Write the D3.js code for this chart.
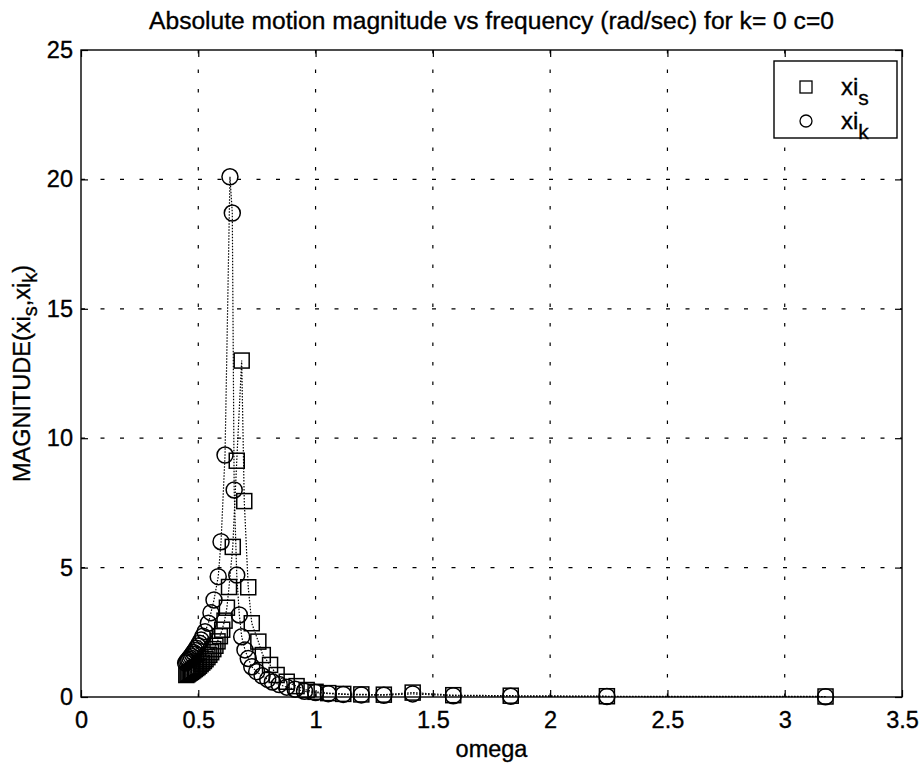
<!DOCTYPE html>
<html>
<head>
<meta charset="utf-8">
<script src="https://cdn.jsdelivr.net/npm/d3@7"></script>
<style>
  html, body { margin: 0; padding: 0; background: #fff; }
  svg { display: block; }
  text { font-family: "Liberation Sans", Arial, Helvetica, sans-serif; fill: #000; stroke: #000; stroke-width: 0.35px; }
</style>
</head>
<body>
<svg id="chart" width="922" height="767"></svg>
<script>
// ---------------- data ----------------
const xTicks = [0, 0.5, 1, 1.5, 2, 2.5, 3, 3.5];
const xTickLabels = ["0", "0.5", "1", "1.5", "2", "2.5", "3", "3.5"];
const yTicks = [0, 5, 10, 15, 20, 25];
const yTickLabels = ["0", "5", "10", "15", "20", "25"];

// xi_s (squares)
const omegaS = [3.174, 2.242, 1.832, 1.587, 1.414, 1.291, 1.195, 1.118, 1.054, 1.000,
  0.962, 0.919, 0.877, 0.834, 0.806, 0.775, 0.756, 0.728, 0.713, 0.696,
  0.685, 0.664, 0.647, 0.631, 0.622, 0.612, 0.602, 0.592, 0.582, 0.573,
  0.564, 0.555, 0.547, 0.539, 0.531, 0.524, 0.517, 0.510, 0.503, 0.497,
  0.491, 0.485, 0.479, 0.474, 0.468, 0.463, 0.458, 0.454, 0.449];
const xiS = [0.02, 0.03, 0.05, 0.07, 0.17, 0.09, 0.10, 0.12, 0.15, 0.20,
  0.27, 0.42, 0.59, 0.85, 1.24, 1.62, 2.14, 2.85, 4.24, 7.57,
  13.0, 9.13, 5.8, 4.25, 3.45, 2.95, 2.6, 2.35, 2.15, 1.98,
  1.85, 1.73, 1.63, 1.54, 1.46, 1.39, 1.33, 1.27, 1.21, 1.16,
  1.12, 1.08, 1.04, 1.00, 0.97, 0.94, 0.91, 0.88, 0.85];

// xi_k (circles)
const omegaK = [3.174, 2.242, 1.832, 1.587, 1.414, 1.291, 1.195, 1.118, 1.054, 1.000,
  0.953, 0.913, 0.877, 0.845, 0.816, 0.796, 0.772, 0.749, 0.728, 0.713,
  0.699, 0.685, 0.675, 0.664, 0.653, 0.645, 0.635, 0.614, 0.597, 0.585,
  0.567, 0.554, 0.543, 0.529, 0.520, 0.512, 0.505, 0.498, 0.492, 0.486,
  0.480, 0.475, 0.469, 0.464, 0.459, 0.455, 0.450, 0.446];
const xiK = [0.01, 0.02, 0.03, 0.05, 0.12, 0.07, 0.08, 0.10, 0.13, 0.17,
  0.22, 0.30, 0.38, 0.48, 0.58, 0.68, 0.82, 0.98, 1.17, 1.49,
  1.82, 2.33, 3.17, 4.71, 8.0, 18.7, 20.1, 9.35, 6.0, 4.65,
  3.75, 3.26, 2.85, 2.52, 2.35, 2.2, 2.08, 1.97, 1.88, 1.8,
  1.72, 1.65, 1.58, 1.52, 1.46, 1.41, 1.36, 1.31];

const titleText = "Absolute motion magnitude vs frequency (rad/sec) for k= 0 c=0";
const xLabelText = "omega";

// ---------------- layout ----------------
const svg = d3.select("#chart");
const L = 81, R = 902, T = 50, B = 697;
const FS = 23.5;

const x = d3.scaleLinear().domain([0, 3.5]).range([L, R]);
const y = d3.scaleLinear().domain([0, 25]).range([B, T]);

// grid
const grid = svg.append("g");
grid.selectAll("line.vg").data(xTicks.slice(1, -1)).join("line")
  .attr("x1", d => x(d)).attr("x2", d => x(d)).attr("y1", T).attr("y2", B)
  .attr("stroke", "#000").attr("stroke-width", 1.2).attr("stroke-dasharray", "3.5,16");
grid.selectAll("line.hg").data(yTicks.slice(1, -1)).join("line")
  .attr("y1", d => y(d)).attr("y2", d => y(d)).attr("x1", L).attr("x2", R)
  .attr("stroke", "#000").attr("stroke-width", 1.2).attr("stroke-dasharray", "4,15.5");

// axes
function styleAxis(g) {
  g.select(".domain").remove();
  g.selectAll(".tick line").attr("stroke", "#000").attr("stroke-width", 1.2);
  g.selectAll(".tick text").attr("font-size", FS)
    .attr("font-family", '"Liberation Sans", Arial, Helvetica, sans-serif').attr("fill", "#000");
}
svg.append("g").attr("transform", `translate(0,${B})`)
  .call(d3.axisBottom(x).tickValues(xTicks).tickFormat((d, i) => xTickLabels[i])
    .tickSizeInner(-7).tickSizeOuter(0).tickPadding(14))
  .call(styleAxis);
svg.append("g").attr("transform", `translate(0,${T})`)
  .call(d3.axisTop(x).tickValues(xTicks).tickFormat("").tickSizeInner(-7).tickSizeOuter(0))
  .call(styleAxis);
svg.append("g").attr("transform", `translate(${L},0)`)
  .call(d3.axisLeft(y).tickValues(yTicks).tickFormat((d, i) => yTickLabels[i])
    .tickSizeInner(-7).tickSizeOuter(0).tickPadding(8))
  .call(styleAxis);
svg.append("g").attr("transform", `translate(${R},0)`)
  .call(d3.axisRight(y).tickValues(yTicks).tickFormat("").tickSizeInner(-7).tickSizeOuter(0))
  .call(styleAxis);

// data lines (dotted)
const dataS = omegaS.map((w, i) => [w, xiS[i]]);
const dataK = omegaK.map((w, i) => [w, xiK[i]]);
const line = d3.line().x(d => x(d[0])).y(d => y(d[1]));
svg.append("path").datum(dataS).attr("d", line).attr("fill", "none")
  .attr("stroke", "#000").attr("stroke-width", 1.2).attr("stroke-dasharray", "1.5,1.5");
svg.append("path").datum(dataK).attr("d", line).attr("fill", "none")
  .attr("stroke", "#000").attr("stroke-width", 1.2).attr("stroke-dasharray", "1.5,1.5");

// markers
const SQ = 15, CR = 8;
svg.append("g").selectAll("rect").data(dataS).join("rect")
  .attr("x", d => x(d[0]) - SQ / 2).attr("y", d => y(d[1]) - SQ / 2)
  .attr("width", SQ).attr("height", SQ)
  .attr("fill", "none").attr("stroke", "#000").attr("stroke-width", 1.5);
svg.append("g").selectAll("circle").data(dataK).join("circle")
  .attr("cx", d => x(d[0])).attr("cy", d => y(d[1])).attr("r", CR)
  .attr("fill", "none").attr("stroke", "#000").attr("stroke-width", 1.5);

// frame
svg.append("rect").attr("x", L).attr("y", T).attr("width", R - L).attr("height", B - T)
  .attr("fill", "none").attr("stroke", "#000").attr("stroke-width", 1.4);

// title
svg.append("text").attr("x", (L + R) / 2).attr("y", 29).attr("text-anchor", "middle")
  .attr("font-size", 24.6).text(titleText);

// x label
svg.append("text").attr("x", (L + R) / 2).attr("y", 757).attr("text-anchor", "middle")
  .attr("font-size", FS).text(xLabelText);

// y label with subscripts
const yl = svg.append("text").attr("transform", `translate(30,${(T + B) / 2}) rotate(-90)`)
  .attr("text-anchor", "middle").attr("font-size", FS);
yl.append("tspan").text("MAGNITUDE(xi");
yl.append("tspan").attr("font-size", FS * 0.85).attr("dy", "0.35em").text("s");
yl.append("tspan").attr("dy", "-0.3em").text(",xi");
yl.append("tspan").attr("font-size", FS * 0.85).attr("dy", "0.35em").text("k");
yl.append("tspan").attr("dy", "-0.3em").text(")");

// legend
const lg = svg.append("g");
lg.append("rect").attr("x", 774).attr("y", 61).attr("width", 123).attr("height", 77)
  .attr("fill", "#fff").attr("stroke", "#000").attr("stroke-width", 1.4);
const LSQ = 12;
lg.append("rect").attr("x", 806 - LSQ / 2).attr("y", 87 - LSQ / 2).attr("width", LSQ).attr("height", LSQ)
  .attr("fill", "none").attr("stroke", "#000").attr("stroke-width", 1.3);
lg.append("circle").attr("cx", 806).attr("cy", 121).attr("r", 6)
  .attr("fill", "none").attr("stroke", "#000").attr("stroke-width", 1.3);
const legendNames = [["xi", "s", 95], ["xi", "k", 129]];
legendNames.forEach(([base, sub, yy]) => {
  const t = lg.append("text").attr("x", 841).attr("y", yy).attr("font-size", 24);
  t.append("tspan").text(base);
  t.append("tspan").attr("font-size", 21).attr("dy", 10).text(sub);
});
</script>
</body>
</html>
